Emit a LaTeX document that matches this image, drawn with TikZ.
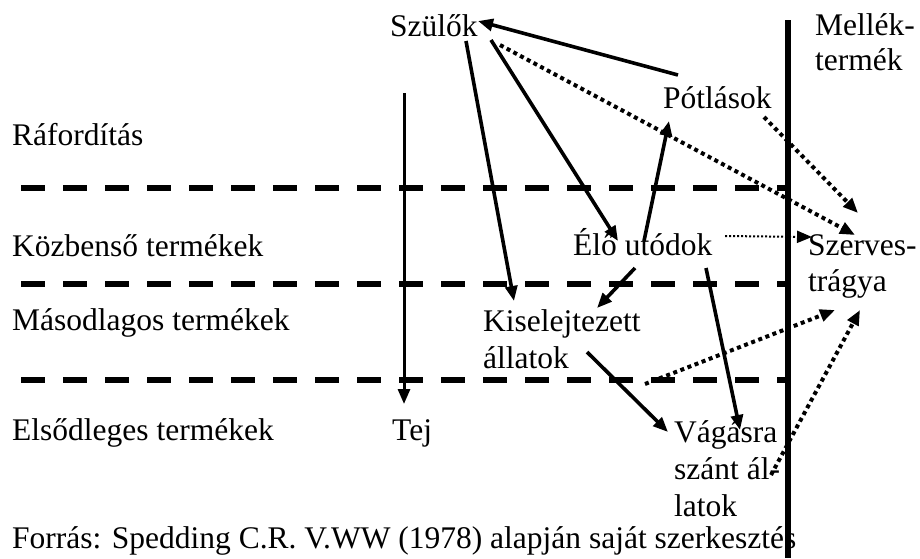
\documentclass[tikz,border=0pt]{standalone}
\usepackage{fontspec}
\setmainfont{Liberation Serif}
\usetikzlibrary{arrows.meta}
\begin{document}
\begin{tikzpicture}[x=1pt,y=-1pt,
  lbl/.style={anchor=base west,inner sep=0pt,font=\fontsize{31.5}{36}\selectfont},
  solidarrow/.style={line width=3.6pt,-{Triangle[length=15pt,width=12pt]}},
  dotarrow/.style={line width=4pt,dash pattern=on 4pt off 3.6pt,-{Triangle[length=15pt,width=12pt]}},
  thindot/.style={line width=2pt,dash pattern=on 2pt off 2pt,-{Triangle[length=15pt,width=12pt]}},
  levelline/.style={line width=6.5pt,dash pattern=on 24pt off 18pt},
  bigline/.style={line width=5.5pt}]
\useasboundingbox (0,0) rectangle (920,558);
% text nodes
\node[lbl] (szulok) at (390,36) {Szülők};
\node[lbl] (mellek1) at (815,35) {Mellék-};
\node[lbl] (mellek2) at (815,70) {termék};
\node[lbl] (potlas) at (663,108) {Pótlások};
\node[lbl] (rafor) at (12,145) {Ráfordítás};
\node[lbl] (kozb) at (12,256) {Közbenső termékek};
\node[lbl] (elo) at (573,255) {Élő utódok};
\node[lbl] (szerv1) at (808,255) {Szerves-};
\node[lbl] (szerv2) at (808,291) {trágya};
\node[lbl] (masod) at (12,330) {Másodlagos termékek};
\node[lbl] (kisel1) at (483,331) {Kiselejtezett};
\node[lbl] (kisel2) at (483,368) {állatok};
\node[lbl] (elsod) at (12,440) {Elsődleges termékek};
\node[lbl] (tej) at (392,440) {Tej};
\node[lbl] (vag1) at (674,442) {Vágásra};
\node[lbl] (vag2) at (674,479) {szánt ál-};
\node[lbl] (vag3) at (674,516) {latok};
\node[lbl] (forras) at (12,548) {Forrás: Spedding C.R. V.WW (1978) alapján saját szerkesztés};
% level lines
\coordinate (l1a) at (21,188); \coordinate (l1b) at (788,188);
\coordinate (l2a) at (21,284); \coordinate (l2b) at (788,284);
\coordinate (l3a) at (21,380); \coordinate (l3b) at (788,380);
\draw[levelline] (l1a) -- (l1b);
\draw[levelline] (l2a) -- (l2b);
\draw[levelline] (l3a) -- (l3b);
% big vertical line
\coordinate (vtop) at (788,20); \coordinate (vbot) at (788,558);
\draw[bigline] (vtop) -- (vbot);
% milk arrow
\coordinate (mtop) at (404,93); \coordinate (mbot) at (404,404);
\draw[line width=3pt,-{Triangle[length=15pt,width=12pt]}] (mtop) -- (mbot);
% arrow end points
\coordinate (p1) at (678,75);  \coordinate (s1) at (478,21);
\coordinate (s2) at (466,41);  \coordinate (k1) at (514,301);
\coordinate (s3) at (491,40);  \coordinate (e1) at (618,241);
\coordinate (s4) at (500,45);  \coordinate (z1) at (855,235);
\coordinate (e2) at (644,241); \coordinate (p2) at (669,121);
\coordinate (p3) at (764,117); \coordinate (z2) at (858,213);
\coordinate (e3) at (725,236); \coordinate (z3) at (812,237);
\coordinate (e4) at (635,268); \coordinate (k2) at (597,308);
\coordinate (e5) at (706,268); \coordinate (v1) at (740,430);
\coordinate (k3) at (587,352); \coordinate (v2) at (668,432);
\coordinate (k4) at (645,384); \coordinate (z4) at (835,310);
\coordinate (v3) at (771,475); \coordinate (z5) at (860,310);
% connectors
\draw[solidarrow] (p1) -- (s1);
\draw[solidarrow] (s2) -- (k1);
\draw[solidarrow] (s3) -- (e1);
\draw[dotarrow] (s4) -- (z1);
\draw[solidarrow] (e2) -- (p2);
\draw[dotarrow] (p3) -- (z2);
\draw[thindot] (e3) -- (z3);
\draw[solidarrow] (e4) -- (k2);
\draw[solidarrow] (e5) -- (v1);
\draw[solidarrow] (k3) -- (v2);
\draw[dotarrow] (k4) -- (z4);
\draw[dotarrow] (v3) -- (z5);
\end{tikzpicture}
\end{document}
